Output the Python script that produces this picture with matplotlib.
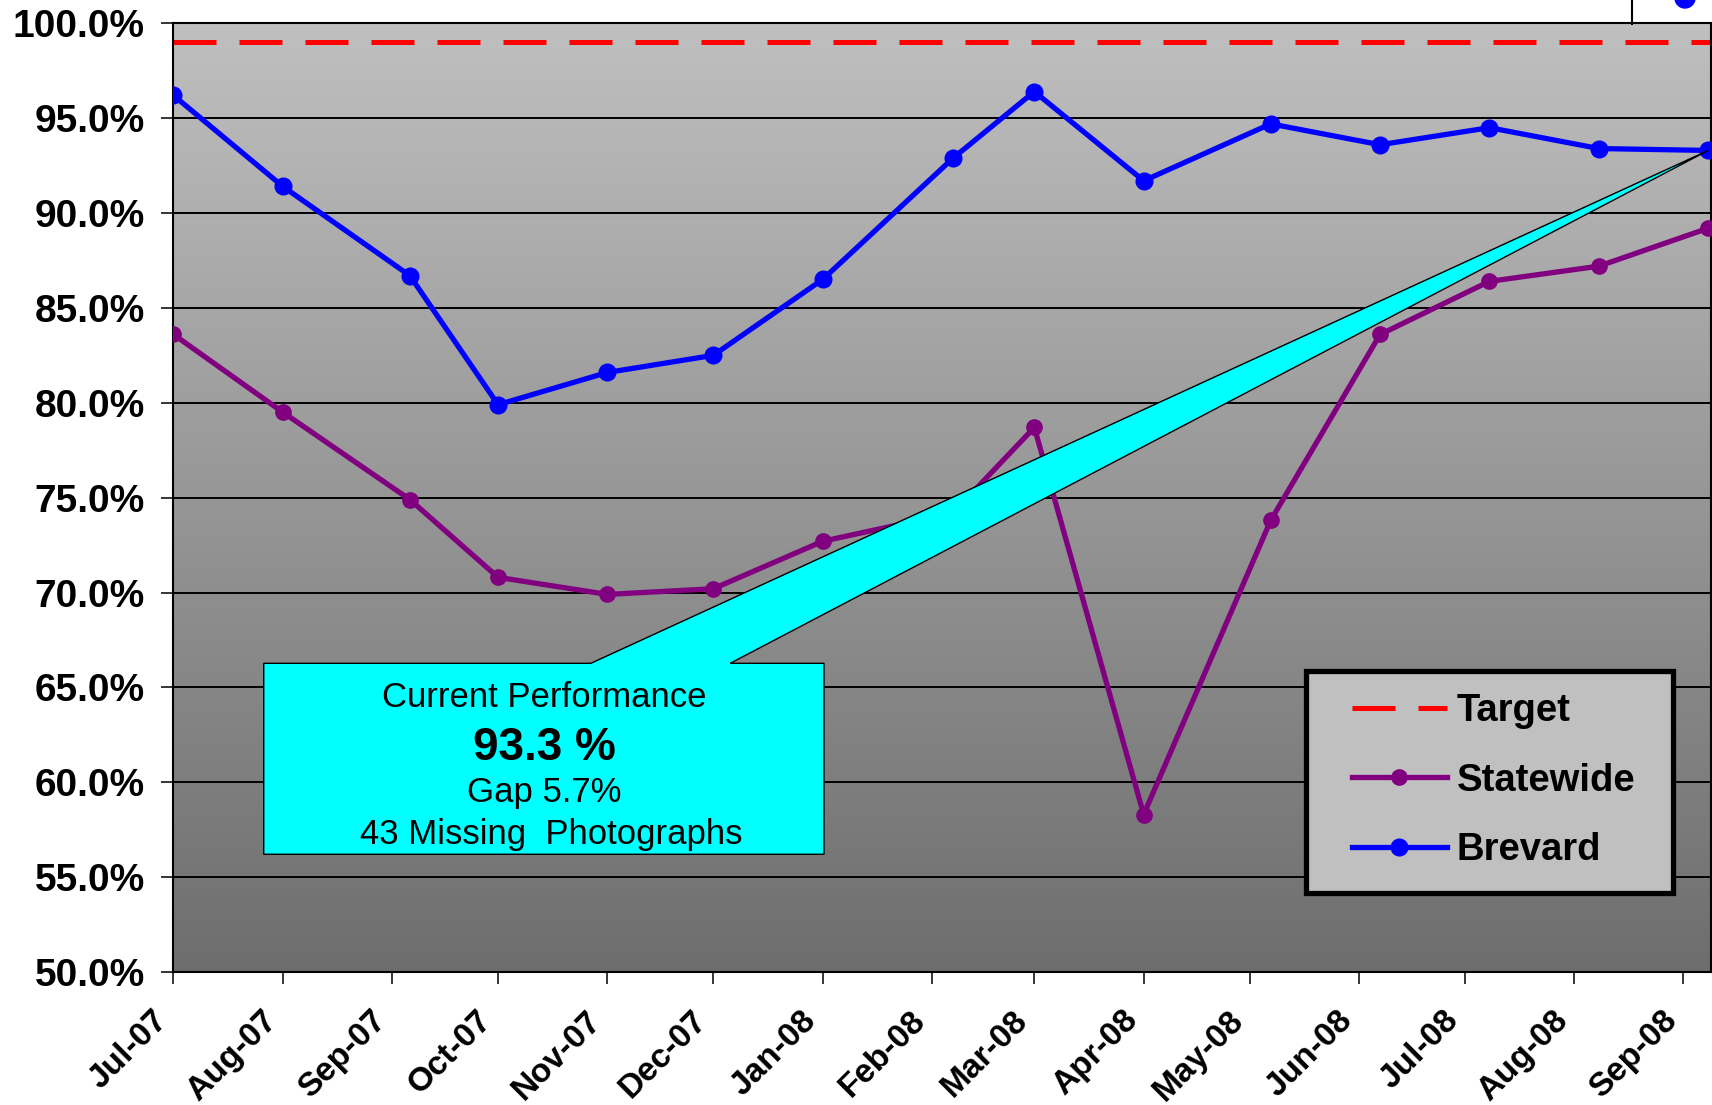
import matplotlib
matplotlib.use('Agg')
import matplotlib.pyplot as plt
import matplotlib.dates as mdates
from matplotlib.patches import Polygon, Rectangle, Circle
from matplotlib.lines import Line2D
from matplotlib.ticker import FuncFormatter
from matplotlib.transforms import ScaledTranslation
from datetime import datetime, timedelta
import numpy as np
import pandas as pd

plt.rcParams['font.family'] = ['Liberation Sans', 'DejaVu Sans']

# readings (dates are not all on the 1st of the month)
dates = ['2007-07-01', '2007-08-01', '2007-09-06', '2007-10-01', '2007-11-01',
         '2007-12-01', '2008-01-01', '2008-02-07', '2008-03-01', '2008-04-01',
         '2008-05-07', '2008-06-07', '2008-07-08', '2008-08-08', '2008-09-08']
brevard = [96.2, 91.4, 86.7, 79.9, 81.6, 82.5, 86.5, 92.9, 96.4, 91.7,
           94.7, 93.6, 94.5, 93.4, 93.3]
statewide = [83.6, 79.5, 74.9, 70.8, 69.9, 70.2, 72.7, 74.2, 78.7, 58.3,
             73.8, 83.6, 86.4, 87.2, 89.2]
target = 99.0

callout = ['Current Performance', '93.3 %', 'Gap 5.7%', '43 Missing  Photographs']

x = [datetime.strptime(d, '%Y-%m-%d') for d in dates]
month_ticks = pd.date_range('2007-07-01', '2008-09-01', freq='MS')
tick_labels = [d.strftime('%b-%y') for d in month_ticks]

fig = plt.figure(figsize=(17.12, 11.05), dpi=100)
ax = fig.add_axes([0.10134, 0.12036, 0.89808, 0.85854])

# grey gradient background
grad = np.linspace(0.75, 0.43, 256)
img = np.repeat(grad[:, None, None], 3, axis=2)
ax.imshow(img, extent=[0, 1, 0, 1], transform=ax.transAxes, aspect='auto', zorder=0)

tline = ax.axhline(target, color='red', lw=3.6, dashes=(8.6, 4.6), zorder=2, label='Target')
sline, = ax.plot(x, statewide, color='#800080', lw=3.8, marker='o', ms=11,
                 label='Statewide', zorder=3)
bline, = ax.plot(x, brevard, color='#0000FF', lw=3.8, marker='o', ms=12,
                 label='Brevard', zorder=4)

ax.set_xlim(datetime(2007, 7, 1), datetime(2007, 7, 1) + timedelta(days=435.8))
ax.set_ylim(50, 100)

ax.yaxis.grid(True, color='black', lw=1.4)
ax.set_axisbelow(True)
for s in ax.spines.values():
    s.set_linewidth(1.5)
    s.set_color('black')

ax.tick_params(axis='both', direction='out', length=8.6, width=1.1, color='black')
ax.tick_params(axis='y', pad=12, labelsize=28)
ax.tick_params(axis='x', pad=15)

ax.set_yticks(np.arange(50, 100.1, 5))
ax.yaxis.set_major_formatter(FuncFormatter(lambda v, p: f'{v:.1f}%'))
plt.setp(ax.get_yticklabels(), fontweight='bold')

ax.set_xticks(month_ticks)
ax.set_xticklabels(tick_labels, fontsize=24, fontweight='bold', rotation=45,
                   ha='right', va='top', rotation_mode='anchor')
shift = ScaledTranslation(-0.22, 0, fig.dpi_scale_trans)
for lbl in ax.get_xticklabels():
    lbl.set_transform(lbl.get_transform() + shift)

# callout box pointing at the latest Brevard value
to_data = ax.transAxes + ax.transData.inverted()
bl, br, bt, bb = 0.0587, 0.4231, 0.3254, 0.1241
apex = (mdates.date2num(x[-1]), brevard[-1])
corners = to_data.transform([(bl, bb), (bl, bt), (0.2715, bt)])
right = to_data.transform([(0.3621, bt), (br, bt), (br, bb)])
pts = list(corners) + [apex] + list(right)
ax.add_patch(Polygon(pts, closed=True, facecolor='#00FFFF', edgecolor='black',
                     lw=1.0, zorder=6))
ax.text(0.241, 0.2796, callout[0], transform=ax.transAxes, ha='center', va='baseline',
        fontsize=25, zorder=7)
ax.text(0.241, 0.2235, callout[1], transform=ax.transAxes, ha='center', va='baseline',
        fontsize=33, fontweight='bold', zorder=7)
ax.text(0.241, 0.1789, callout[2], transform=ax.transAxes, ha='center', va='baseline',
        fontsize=25, zorder=7)
ax.text(0.246, 0.1349, callout[3], transform=ax.transAxes, ha='center', va='baseline',
        fontsize=25, zorder=7)

# legend with its own frame
ax.add_patch(Rectangle((0.7366, 0.0836), 0.9753 - 0.7366, 0.3176 - 0.0836,
                       transform=ax.transAxes, facecolor='#C0C0C0', edgecolor='black',
                       lw=3.8, zorder=8))
leg = ax.legend(handles=[tline, sline, bline], loc='center left',
                bbox_to_anchor=(0.7663, 0.2015), frameon=False,
                prop={'weight': 'bold', 'size': 27.5}, handlelength=2.5,
                handletextpad=0.25, labelspacing=0.88, borderpad=0, borderaxespad=0)
leg.set_zorder(9)

# bits of the neighbouring slide object, cut off at the top edge
fig.add_artist(Line2D([0.9533, 0.9533], [0.9783, 1.0], transform=fig.transFigure,
                      color='black', lw=1.5))
fig.add_artist(Circle((16.85, 11.07), 0.1, transform=fig.dpi_scale_trans,
                      color='#0000FF'))

fig.savefig('out.png', dpi=100)
